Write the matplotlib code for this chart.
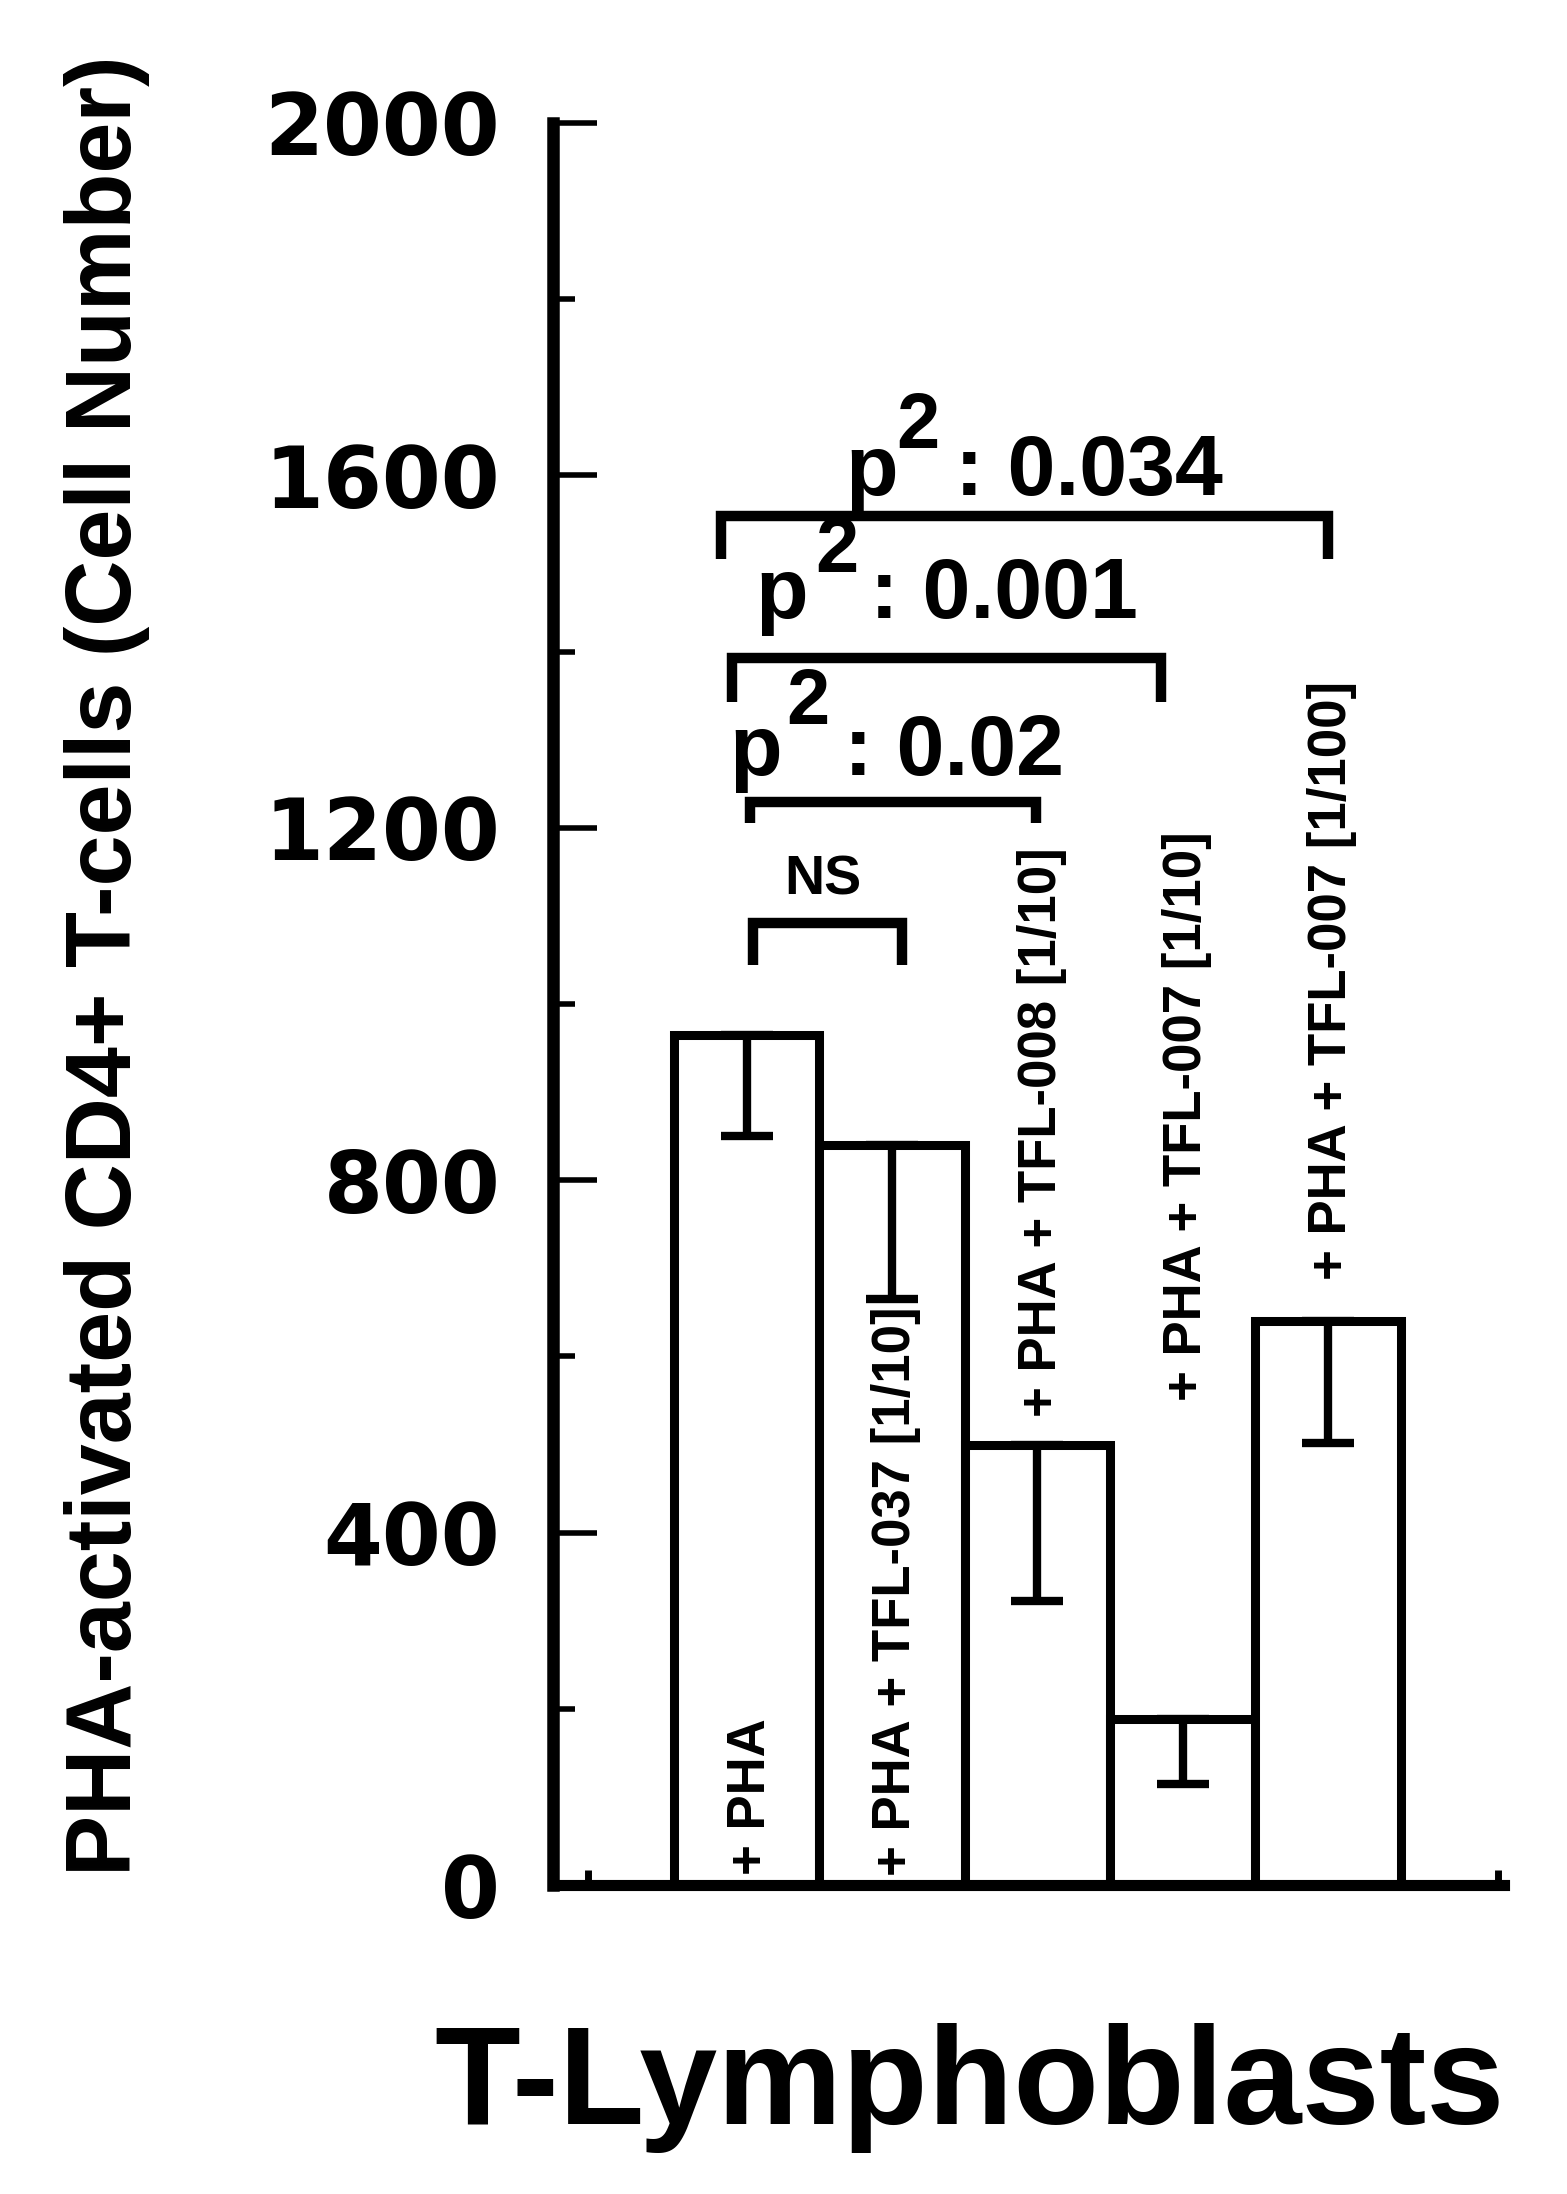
import matplotlib
matplotlib.use("Agg")
import matplotlib.pyplot as plt

# bar data
positions = [1, 2, 3, 4, 5]
means = [965, 840, 500, 188, 640]
err_low = [115, 175, 178, 73, 138]
bar_labels = ["+ PHA", "+ PHA + TFL-037 [1/10]", "+ PHA + TFL-008 [1/10]",
              "+ PHA + TFL-007 [1/10]", "+ PHA + TFL-007 [1/100]"]
label_bottom = [12, 10, 531, 549, 687]

# significance brackets: x1, x2, height, leg bottom
br_x1 = [1.04, 1.02, 0.90, 0.82]
br_x2 = [2.07, 2.99, 3.85, 5.00]
br_y = [1092, 1229, 1393, 1554]
br_leg = [1044, 1205, 1343, 1505]

# p-value annotations
p_values = [": 0.02", ": 0.001", ": 0.034"]
p_x = [0.883, 1.062, 1.68]
sup_x = [1.27, 1.47, 2.03]
colon_x = [1.668, 1.847, 2.43]
p_base = [1260, 1438, 1578]
sup_base = [1318, 1490, 1631]

font = "Liberation Sans"

fig = plt.figure(figsize=(15.67, 21.94), dpi=100)
ax = fig.add_axes([0.3529, 0.1408, 0.6069, 0.8032])

ax.bar(positions, means, width=1.0, color="white", edgecolor="black",
       linewidth=6.5, zorder=2)
ax.errorbar(positions, means, yerr=[err_low, [0] * 5], fmt="none",
            ecolor="black", elinewidth=6, capsize=19, capthick=6, zorder=3)

for x, lab, yb in zip(positions, bar_labels, label_bottom):
    ax.text(x + 0.03, yb, lab, rotation=90, ha="center", va="bottom",
            fontsize=38, fontweight="bold", family=font, zorder=4)

# brackets
for x1, x2, y, yl in zip(br_x1, br_x2, br_y, br_leg):
    ax.plot([x1, x1, x2, x2], [yl, y, y, yl], color="black", lw=7.5,
            solid_joinstyle="miter", solid_capstyle="butt", zorder=3)

ax.text(1.52, 1140, "NS", ha="center", va="center", fontsize=40,
        fontweight="bold", family=font)

for txt, px, sx, cx, pb, sb in zip(p_values, p_x, sup_x, colon_x, p_base, sup_base):
    ax.text(px, pb, "p", ha="left", va="baseline", fontsize=62,
            fontweight="bold", family=font)
    ax.text(sx, sb, "2", ha="left", va="baseline", fontsize=56,
            fontweight="bold", family=font)
    ax.text(cx, pb, txt, ha="left", va="baseline", fontsize=62,
            fontweight="bold", family=font)

ax.set_xlim(-0.333, 6.21)
ax.set_ylim(0, 2000)

ax.spines["top"].set_visible(False)
ax.spines["right"].set_visible(False)
ax.spines["left"].set_linewidth(9)
ax.spines["bottom"].set_linewidth(8)

ax.set_yticks(range(0, 2001, 400))
ax.set_yticks(range(200, 2000, 400), minor=True)
ax.tick_params(axis="y", which="major", direction="in", length=32, width=4,
               pad=38, labelsize=61)
ax.tick_params(axis="y", which="minor", direction="in", length=16, width=4)
for t in ax.get_yticklabels():
    t.set_fontweight("bold")
    t.set_family("DejaVu Sans")

ax.set_xticks([-0.09, 6.17])
ax.set_xticklabels([])
ax.tick_params(axis="x", direction="in", length=11, width=5)

ax.set_ylabel("PHA-activated CD4+ T-cells (Cell Number)", fontsize=66,
              fontweight="bold", family=font, va="center")
ax.yaxis.set_label_coords(-0.469, 0.522)
ax.set_xlabel("T-Lymphoblasts", fontsize=101, fontweight="bold",
              family=font, va="top")
ax.xaxis.set_label_coords(0.4385, -0.078)

fig.savefig("out.png", dpi=100, facecolor="white")
